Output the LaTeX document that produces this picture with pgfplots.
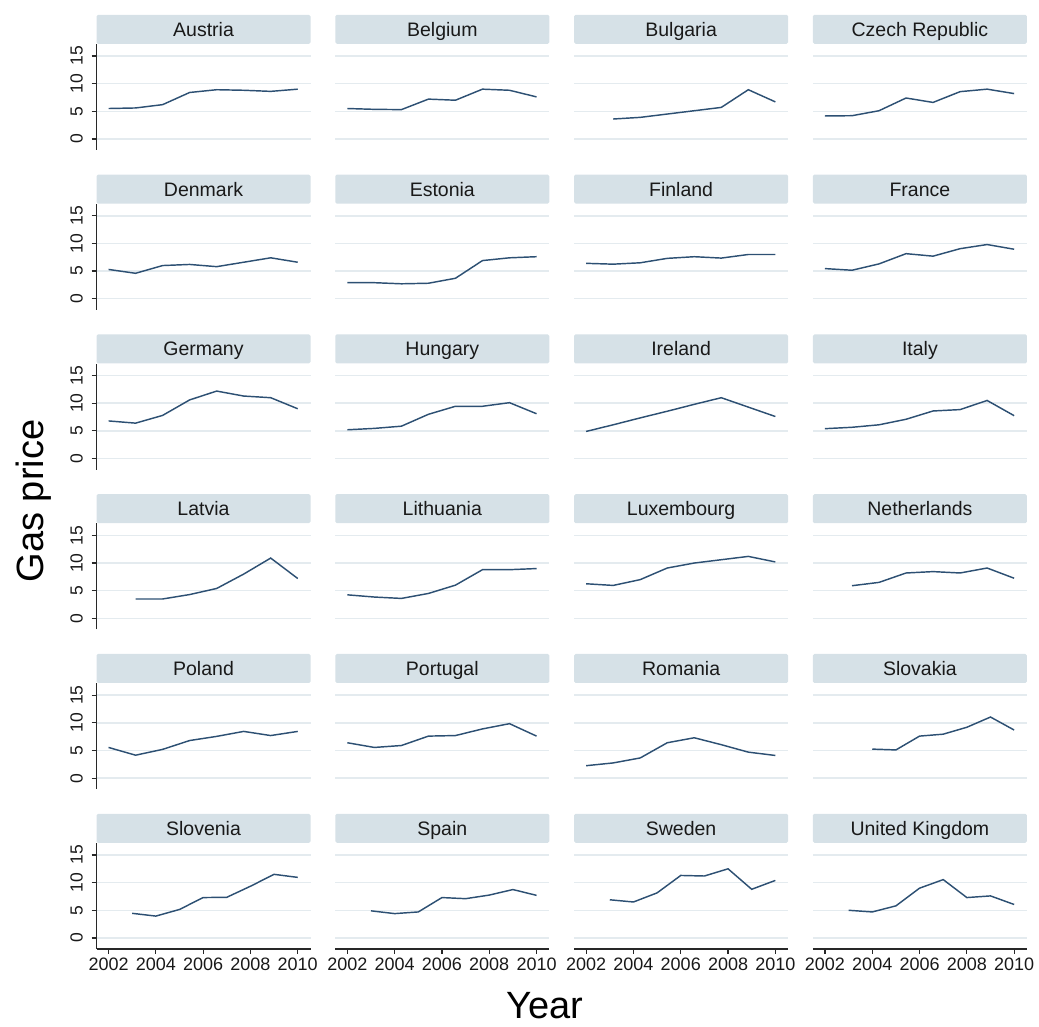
\documentclass[border=0pt]{standalone}
\usepackage{fontspec}
\setmainfont{Liberation Sans}
\usepackage{pgfplots}
\pgfplotsset{compat=1.18}
\definecolor{stripcol}{RGB}{214,225,231}
\definecolor{gridcol}{RGB}{228,235,239}
\definecolor{linecol}{RGB}{45,80,115}
\definecolor{axcol}{RGB}{40,40,40}
\pgfplotsset{
  panel/.style={
    scale only axis, width=214pt, height=106pt, anchor=south west,
    xmin=2001.49, xmax=2010.54, ymin=-2, ymax=17.17,
    ytick={0,5,10,15}, xtick={2002,2004,2006,2008,2010},
    ymajorgrids, grid style={line width=1.5pt, gridcol},
    axis x line*=bottom, axis y line*=left,
    axis line style={-, draw=axcol, line width=1.2pt},
    tick align=outside, major tick length=5pt,
    tick style={axcol, line width=1.2pt},
    /pgf/number format/assume math mode=true,
    xticklabel style={/pgf/number format/1000 sep={}, font=\fontsize{18}{18}\selectfont, text=black!90},
    yticklabel style={rotate=90, anchor=base, yshift=9pt, font=\fontsize{17.5}{18}\selectfont, text=black!90},
    every axis title/.style={at={(0.5,1)}, anchor=south, fill=stripcol, minimum width=214pt,
      minimum height=29pt, inner sep=0pt, rounded corners=1.5pt, text height=14pt, text depth=0pt,
      font=\fontsize{19.5}{20}\selectfont, text=black!90},
    clip=false,
  },
  inner/.style={yticklabels={}, ytick style={draw=none}, y axis line style={draw=none}},
  notbottom/.style={xticklabels={}, xtick style={draw=none}, x axis line style={draw=none}},
  dl/.style={linecol, line width=1.45pt, mark=none},
}
\begin{document}
\begin{tikzpicture}
\path[use as bounding box] (0,0) rectangle (1039pt,1027pt);
% Row 0
\begin{axis}[panel, notbottom, at={(96.5pt,877pt)}, title={Austria}]
\addplot[dl] coordinates {(2002,5.5)(2003.143,5.6)(2004.286,6.2)(2005.429,8.4)(2006.571,8.9)(2007.714,8.8)(2008.857,8.6)(2010,9.0)};
\end{axis}
\begin{axis}[panel, notbottom, inner, at={(335.3pt,877pt)}, title={Belgium}]
\addplot[dl] coordinates {(2002,5.5)(2003.143,5.35)(2004.286,5.3)(2005.429,7.2)(2006.571,7.0)(2007.714,9.0)(2008.857,8.8)(2010,7.6)};
\end{axis}
\begin{axis}[panel, notbottom, inner, at={(574.1pt,877pt)}, title={Bulgaria}]
\addplot[dl] coordinates {(2003.143,3.6)(2004.286,3.9)(2005.429,4.5)(2006.571,5.1)(2007.714,5.7)(2008.857,8.9)(2010,6.7)};
\end{axis}
\begin{axis}[panel, notbottom, inner, at={(812.9pt,877pt)}, title={Czech Republic}]
\addplot[dl] coordinates {(2002,4.15)(2003.143,4.2)(2004.286,5.1)(2005.429,7.4)(2006.571,6.6)(2007.714,8.55)(2008.857,9.0)(2010,8.2)};
\end{axis}
% Row 1
\begin{axis}[panel, notbottom, at={(96.5pt,717.2pt)}, title={Denmark}]
\addplot[dl] coordinates {(2002,5.3)(2003.143,4.6)(2004.286,6.0)(2005.429,6.2)(2006.571,5.8)(2007.714,6.6)(2008.857,7.4)(2010,6.6)};
\end{axis}
\begin{axis}[panel, notbottom, inner, at={(335.3pt,717.2pt)}, title={Estonia}]
\addplot[dl] coordinates {(2002,2.9)(2003.143,2.9)(2004.286,2.7)(2005.429,2.8)(2006.571,3.7)(2007.714,6.9)(2008.857,7.4)(2010,7.6)};
\end{axis}
\begin{axis}[panel, notbottom, inner, at={(574.1pt,717.2pt)}, title={Finland}]
\addplot[dl] coordinates {(2002,6.4)(2003.143,6.25)(2004.286,6.5)(2005.429,7.3)(2006.571,7.6)(2007.714,7.35)(2008.857,8.0)(2010,8.0)};
\end{axis}
\begin{axis}[panel, notbottom, inner, at={(812.9pt,717.2pt)}, title={France}]
\addplot[dl] coordinates {(2002,5.45)(2003.143,5.15)(2004.286,6.3)(2005.429,8.15)(2006.571,7.7)(2007.714,9.05)(2008.857,9.8)(2010,8.95)};
\end{axis}
% Row 2
\begin{axis}[panel, notbottom, at={(96.5pt,557.4pt)}, title={Germany}]
\addplot[dl] coordinates {(2002,6.8)(2003.143,6.4)(2004.286,7.8)(2005.429,10.6)(2006.571,12.2)(2007.714,11.3)(2008.857,11.0)(2010,9.0)};
\end{axis}
\begin{axis}[panel, notbottom, inner, at={(335.3pt,557.4pt)}, title={Hungary}]
\addplot[dl] coordinates {(2002,5.2)(2003.143,5.45)(2004.286,5.85)(2005.429,8.0)(2006.571,9.45)(2007.714,9.45)(2008.857,10.1)(2010,8.1)};
\end{axis}
\begin{axis}[panel, notbottom, inner, at={(574.1pt,557.4pt)}, title={Ireland}]
\addplot[dl] coordinates {(2002,4.9)(2003.143,6.1)(2004.286,7.35)(2005.429,8.55)(2006.571,9.8)(2007.714,11.0)(2008.857,9.3)(2010,7.6)};
\end{axis}
\begin{axis}[panel, notbottom, inner, at={(812.9pt,557.4pt)}, title={Italy}]
\addplot[dl] coordinates {(2002,5.4)(2003.143,5.65)(2004.286,6.1)(2005.429,7.1)(2006.571,8.6)(2007.714,8.85)(2008.857,10.5)(2010,7.75)};
\end{axis}
% Row 3
\begin{axis}[panel, notbottom, at={(96.5pt,397.6pt)}, title={Latvia}]
\addplot[dl] coordinates {(2003.143,3.5)(2004.286,3.5)(2005.429,4.3)(2006.571,5.4)(2007.714,8.0)(2008.857,10.9)(2010,7.2)};
\end{axis}
\begin{axis}[panel, notbottom, inner, at={(335.3pt,397.6pt)}, title={Lithuania}]
\addplot[dl] coordinates {(2002,4.25)(2003.143,3.85)(2004.286,3.6)(2005.429,4.5)(2006.571,6.0)(2007.714,8.8)(2008.857,8.8)(2010,9.0)};
\end{axis}
\begin{axis}[panel, notbottom, inner, at={(574.1pt,397.6pt)}, title={Luxembourg}]
\addplot[dl] coordinates {(2002,6.25)(2003.143,5.95)(2004.286,7.0)(2005.429,9.1)(2006.571,10.0)(2007.714,10.6)(2008.857,11.2)(2010,10.2)};
\end{axis}
\begin{axis}[panel, notbottom, inner, at={(812.9pt,397.6pt)}, title={Netherlands}]
\addplot[dl] coordinates {(2003.143,5.9)(2004.286,6.5)(2005.429,8.2)(2006.571,8.45)(2007.714,8.2)(2008.857,9.1)(2010,7.25)};
\end{axis}
% Row 4
\begin{axis}[panel, notbottom, at={(96.5pt,237.8pt)}, title={Poland}]
\addplot[dl] coordinates {(2002,5.55)(2003.143,4.15)(2004.286,5.2)(2005.429,6.8)(2006.571,7.55)(2007.714,8.45)(2008.857,7.7)(2010,8.45)};
\end{axis}
\begin{axis}[panel, notbottom, inner, at={(335.3pt,237.8pt)}, title={Portugal}]
\addplot[dl] coordinates {(2002,6.4)(2003.143,5.55)(2004.286,5.9)(2005.429,7.6)(2006.571,7.7)(2007.714,8.9)(2008.857,9.85)(2010,7.6)};
\end{axis}
\begin{axis}[panel, notbottom, inner, at={(574.1pt,237.8pt)}, title={Romania}]
\addplot[dl] coordinates {(2002,2.25)(2003.143,2.75)(2004.286,3.65)(2005.429,6.4)(2006.571,7.3)(2007.714,6.05)(2008.857,4.7)(2010,4.1)};
\end{axis}
\begin{axis}[panel, notbottom, inner, at={(812.9pt,237.8pt)}, title={Slovakia}]
\addplot[dl] coordinates {(2004,5.25)(2005,5.1)(2006,7.6)(2007,7.95)(2008,9.2)(2009,11.05)(2010,8.7)};
\end{axis}
% Row 5
\begin{axis}[panel, at={(96.5pt,78pt)}, title={Slovenia}]
\addplot[dl] coordinates {(2003,4.45)(2004,3.95)(2005,5.15)(2006,7.3)(2007,7.35)(2008,9.35)(2009,11.5)(2010,10.95)};
\end{axis}
\begin{axis}[panel, inner, at={(335.3pt,78pt)}, title={Spain}]
\addplot[dl] coordinates {(2003,4.9)(2004,4.4)(2005,4.7)(2006,7.3)(2007,7.1)(2008,7.75)(2009,8.75)(2010,7.7)};
\end{axis}
\begin{axis}[panel, inner, at={(574.1pt,78pt)}, title={Sweden}]
\addplot[dl] coordinates {(2003,6.9)(2004,6.5)(2005,8.15)(2006,11.3)(2007,11.2)(2008,12.5)(2009,8.8)(2010,10.4)};
\end{axis}
\begin{axis}[panel, inner, at={(812.9pt,78pt)}, title={United Kingdom}]
\addplot[dl] coordinates {(2003,5.0)(2004,4.7)(2005,5.8)(2006,9.0)(2007,10.55)(2008,7.3)(2009,7.6)(2010,6.05)};
\end{axis}
\node[rotate=90, anchor=base, font=\fontsize{38}{40}\selectfont] at (43pt,526pt) {Gas price};
\node[anchor=base, font=\fontsize{38}{40}\selectfont] at (545pt,8pt) {Year};
\end{tikzpicture}
\end{document}
